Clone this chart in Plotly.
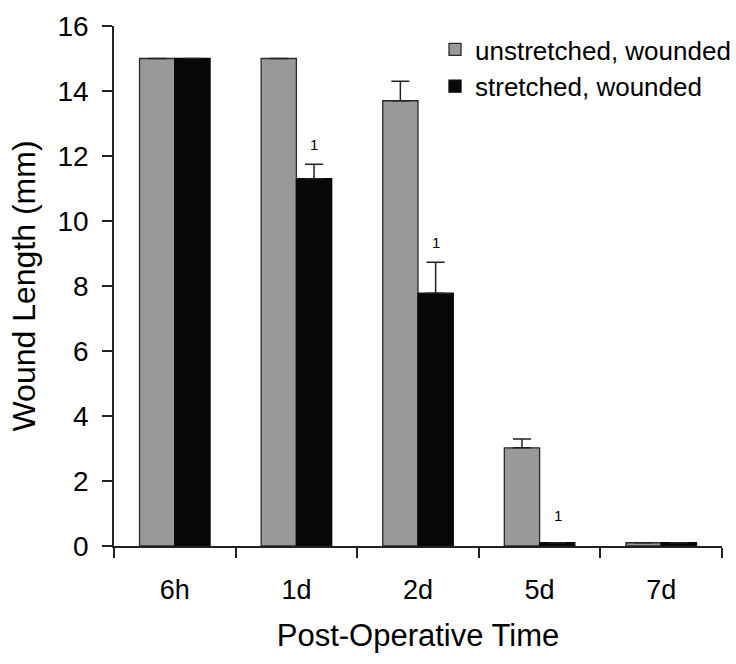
import plotly.graph_objects as go

# Post-operative time points
categories = ["6h", "1d", "2d", "5d", "7d"]

# Mean wound length (mm) and upper error per group
unstretched = [15.0, 15.0, 13.7, 3.02, 0.1]
unstretched_err = [0.0, 0.0, 0.6, 0.27, 0.0]
stretched = [15.0, 11.3, 7.78, 0.1, 0.1]
stretched_err = [0.0, 0.45, 0.95, 0.0, 0.0]

# Significance markers on stretched bars: (category, marker text, pixel lift)
markers = [("1d", "1", 9), ("2d", "1", 9), ("5d", "1", 17)]

FONT = "Liberation Sans, Arial, sans-serif"
INK = "#000000"

fig = go.Figure()
fig.add_trace(go.Bar(
    x=categories, y=unstretched, name="unstretched, wounded",
    marker=dict(color="#999999", line=dict(color="#2a2a2a", width=1.3)),
    error_y=dict(type="data", array=unstretched_err, arrayminus=[0] * 5,
                 symmetric=False, color="#222222", thickness=1.5, width=9),
))
fig.add_trace(go.Bar(
    x=categories, y=stretched, name="stretched, wounded",
    marker=dict(color="#080808", line=dict(color="#080808", width=1.3)),
    error_y=dict(type="data", array=stretched_err, arrayminus=[0] * 5,
                 symmetric=False, color="#222222", thickness=1.5, width=9),
))

for cat, txt, lift in markers:
    i = categories.index(cat)
    fig.add_annotation(
        x=cat, y=stretched[i] + stretched_err[i], text=txt,
        showarrow=False, xshift=18, yshift=lift, yanchor="bottom",
        font=dict(family=FONT, size=15, color=INK),
    )

fig.update_layout(
    width=736, height=664,
    margin=dict(l=114, r=14, t=26, b=118, autoexpand=False),
    paper_bgcolor="white", plot_bgcolor="white",
    barmode="group", bargap=0.42, bargroupgap=0,
    font=dict(family=FONT, color=INK),
    showlegend=True,
    legend=dict(x=0.528, y=1.0, xanchor="left", yanchor="top",
                font=dict(family=FONT, size=26, color=INK),
                bgcolor="rgba(0,0,0,0)", itemwidth=30),
    xaxis=dict(
        showline=True, linecolor="#222222", linewidth=1.5,
        ticks="outside", tickson="boundaries", ticklen=10, tickwidth=1.5,
        tickcolor="#222222", showgrid=False,
        tickfont=dict(family=FONT, size=27, color=INK),
        ticklabelstandoff=19,
        title=dict(text="Post-Operative Time", standoff=20,
                   font=dict(family=FONT, size=31, color=INK)),
    ),
    yaxis=dict(
        range=[0, 16], dtick=2, showline=True, linecolor="#222222",
        linewidth=1.5, ticks="outside", ticklen=10, tickwidth=1.5,
        tickcolor="#222222", showgrid=False, zeroline=False,
        tickfont=dict(family=FONT, size=28, color=INK),
        ticklabelstandoff=8,
        title=dict(text="Wound Length (mm)", standoff=12,
                   font=dict(family=FONT, size=32, color=INK)),
    ),
)

fig.write_html("out.html")
